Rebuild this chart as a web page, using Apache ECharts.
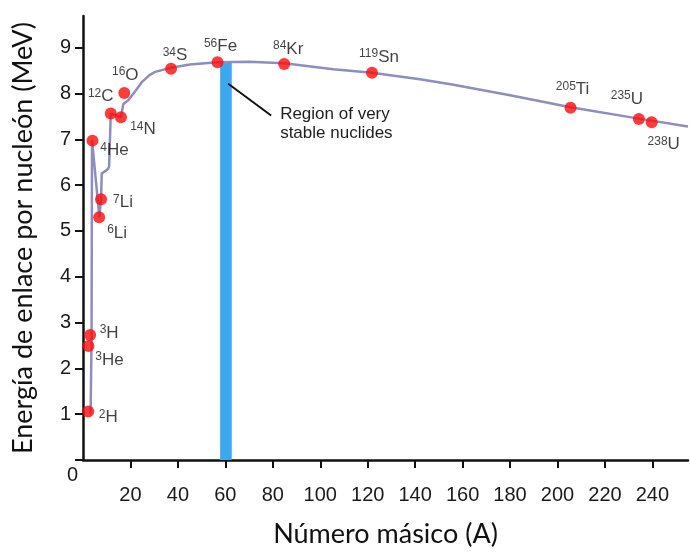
<!DOCTYPE html>
<html>
<head>
<meta charset="utf-8">
<script src="https://cdn.jsdelivr.net/npm/echarts@6/dist/echarts.min.js"></script>
<style>
html,body{margin:0;padding:0;background:#fff;}
#chart{width:690px;height:553px;}
</style>
</head>
<body>
<div id="chart"></div>
<script>
// Nuclides: mass number, element symbol, binding energy per nucleon (MeV)
var nuclideMass   = ['2','3','3','4','6','7','12','14','16','34','56','84','119','205','235','238'];
var nuclideSymbol = ['H','H','He','He','Li','Li','C','N','O','S','Fe','Kr','Sn','Ti','U','U'];
var nuclideA      = [2.2, 3.0, 2.3, 4.0, 6.8, 7.6, 11.7, 16.0, 17.4, 37.1, 56.7, 84.8, 121.8, 205.5, 234.3, 239.7];
var nuclideE      = [1.06, 2.73, 2.49, 6.97, 5.30, 5.69, 7.56, 7.48, 8.01, 8.54, 8.68, 8.64, 8.45, 7.69, 7.44, 7.37];

// Binding energy curve (A, MeV)
var curveA = [3.2, 3.6, 3.8, 6.9, 7.6, 7.9, 10.5, 11.0, 11.7, 16.0, 16.8, 17.0, 19.1, 22.0, 24.7, 28.0, 30.4, 37.1, 45, 56.7, 70, 84.8, 105.5, 121.8, 142, 155, 180, 205.5, 234.3, 255];
var curveE = [1.00, 2.60, 6.98, 5.30, 5.70, 6.25, 6.35, 6.40, 7.56, 7.48, 7.50, 7.77, 7.85, 8.05, 8.24, 8.40, 8.47, 8.56, 8.63, 8.68, 8.69, 8.66, 8.53, 8.45, 8.31, 8.20, 7.96, 7.70, 7.45, 7.28];

// Region of very stable nuclides
var stableA = [57.8, 62.7];
var stableTopE = 8.68;
var stableText = 'Region of very\nstable nuclides';
var pointerA = [61.2, 79.3];
var pointerE = [8.21, 7.52];

// Axis ticks
var xTicks = [20, 40, 60, 80, 100, 120, 140, 160, 180, 200, 220, 240];
var yTicks = [0, 1, 2, 3, 4, 5, 6, 7, 8, 9];

// label offsets (style)
var labelOffsets = {
  '2H':[20,6], '3H':[19,-2], '3He':[21,14], '4He':[22,10], '6Li':[18,16], '7Li':[22,3],
  '12C':[-10,-17], '14N':[22,12], '16O':[1,-18], '34S':[4,-13], '56Fe':[3,-16], '84Kr':[4,-15],
  '119Sn':[7,-16], '205Ti':[2,-18], '235U':[-12,-20], '238U':[12,22]
};

var FONT = 'Liberation Sans';
var curveData = curveA.map(function(a,i){return [a, curveE[i]];});
var dotData = nuclideA.map(function(a,i){
  var key = nuclideMass[i] + nuclideSymbol[i];
  return {
    value:[a, nuclideE[i]],
    name: key,
    label:{
      show:true, position:'inside', offset: labelOffsets[key],
      formatter: '{s|' + nuclideMass[i] + '}{e|' + nuclideSymbol[i] + '}'
    }
  };
});

var chart = echarts.init(document.getElementById('chart'), null, {renderer:'canvas'});
chart.setOption({
  animation:false,
  backgroundColor:'#ffffff',
  grid:{left:83, right:2, top:16, bottom:85, containLabel:false},
  xAxis:{
    type:'value', min:0, max:255,
    name:'Número másico (A)', nameLocation:'middle', nameGap:61,
    nameTextStyle:{fontFamily:'Lato', fontSize:27, color:'#111'},
    axisLine:{show:true, onZero:false, lineStyle:{color:'#111', width:2.5}},
    axisTick:{show:true, length:8, lineStyle:{color:'#111', width:2}, customValues:xTicks},
    axisLabel:{customValues:xTicks, fontFamily:FONT, fontSize:20, color:'#1a1a1a', margin:25},
    splitLine:{show:false}
  },
  yAxis:{
    type:'value', min:0, max:9.69,
    name:'Energía de enlace por nucleón (MeV)', nameLocation:'middle', nameGap:46,
    nameTextStyle:{fontFamily:'Lato', fontSize:27, color:'#111'},
    axisLine:{show:true, onZero:false, lineStyle:{color:'#111', width:2.5}},
    axisTick:{show:true, length:8, lineStyle:{color:'#111', width:2}, customValues:yTicks},
    axisLabel:{
      customValues:yTicks, margin:5,
      formatter:function(v){ return v === 0 ? '{z|0}' : '{n|' + v + '}'; },
      rich:{
        z:{fontFamily:FONT, fontSize:20, color:'#1a1a1a', padding:[30,0,0,0]},
        n:{fontFamily:FONT, fontSize:20, color:'#1a1a1a', padding:[0,7,0,0]}
      }
    },
    splitLine:{show:false}
  },
  series:[
    {
      type:'line', data:[], z:1, silent:true,
      markArea:{
        silent:true,
        itemStyle:{color:'#3ca9ee', opacity:1},
        data:[[{coord:[stableA[0], 0]}, {coord:[stableA[1], stableTopE]}]]
      },
      markLine:{
        silent:true, symbol:['none','none'],
        lineStyle:{color:'#111', width:2, type:'solid'},
        label:{show:false},
        data:[[{coord:[pointerA[0], pointerE[0]]}, {coord:[pointerA[1], pointerE[1]]}]]
      },
      markPoint:{
        silent:true, symbol:'circle', symbolSize:0,
        label:{
          show:true, position:'right', distance:9, formatter:stableText,
          fontFamily:FONT, fontSize:17, lineHeight:19, color:'#1e1e1e', align:'left'
        },
        data:[{coord:[pointerA[1], 7.33]}]
      }
    },
    {
      type:'line', data:curveData, z:2, silent:true, showSymbol:false,
      lineStyle:{color:'#8d8dc0', width:2.5}
    },
    {
      type:'scatter', data:dotData, z:3, symbol:'circle', symbolSize:12,
      itemStyle:{color:'#ff0a0a'},
      label:{
        show:true,
        rich:{
          s:{fontFamily:FONT, fontSize:12, color:'#111', verticalAlign:'top', lineHeight:11, padding:[0,0,6,0]},
          e:{fontFamily:FONT, fontSize:17, color:'#111', lineHeight:18}
        }
      }
    }
  ]
});
</script>
</body>
</html>
